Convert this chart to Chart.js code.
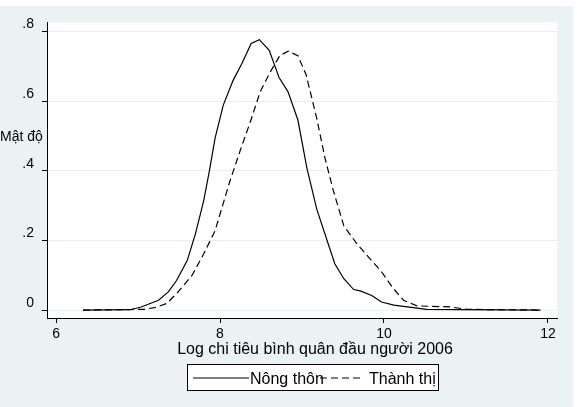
<!DOCTYPE html>
<html>
<head>
<meta charset="utf-8">
<script src="https://cdn.jsdelivr.net/npm/chart.js@4.4.1/dist/chart.umd.min.js"></script>
<style>
  html, body { margin: 0; padding: 0; background: #fff; }
  #wrap { position: absolute; left: 0; top: 6px; width: 573px; height: 401px; background: #eaf2f3; }
</style>
</head>
<body>
<div id="wrap"><canvas id="myChart" width="573" height="401"></canvas></div>
<script>
// Nông thôn (solid line)
const ruralX = [6.33, 6.90, 7.03, 7.25, 7.37, 7.47, 7.60, 7.70, 7.80, 7.87, 7.94, 8.04, 8.16, 8.27, 8.38, 8.48,
                8.60, 8.72, 8.83, 8.95, 9.06, 9.18, 9.30, 9.40, 9.51, 9.63, 9.71, 9.85, 9.97, 10.12, 10.52, 11.91];
const ruralY = [0, 0.001, 0.008, 0.028, 0.052, 0.085, 0.142, 0.219, 0.313, 0.399, 0.494, 0.589, 0.660, 0.710, 0.766, 0.777,
                0.746, 0.668, 0.627, 0.546, 0.408, 0.290, 0.204, 0.133, 0.090, 0.059, 0.055, 0.042, 0.023, 0.014, 0.002, 0];

// Thành thị (dashed line)
const urbanX = [6.33, 7.07, 7.22, 7.35, 7.47, 7.66, 7.80, 7.94, 8.12, 8.25, 8.37, 8.49, 8.61, 8.73, 8.83, 8.95,
                9.05, 9.18, 9.28, 9.38, 9.51, 9.67, 9.83, 9.97, 10.10, 10.24, 10.40, 10.81, 11.01, 11.91];
const urbanY = [0, 0.002, 0.008, 0.019, 0.047, 0.100, 0.161, 0.228, 0.370, 0.461, 0.541, 0.627, 0.683, 0.731, 0.744, 0.731,
                0.676, 0.551, 0.437, 0.345, 0.242, 0.190, 0.147, 0.110, 0.066, 0.028, 0.012, 0.009, 0.002, 0];

const xTicks = [6, 8, 10, 12];
const yTicks = [0, 0.2, 0.4, 0.6, 0.8];
const yTickLabels = ['0', '.2', '.4', '.6', '.8'];

const seriesNames = ['Nông thôn', 'Thành thị'];
const xTitle = 'Log chi tiêu bình quân đầu người 2006';
const yTitle = 'Mật độ';

const FAMILY = '"Liberation Sans", Arial, sans-serif';

function toPoints(xs, ys) {
    return xs.map(function (x, i) { return { x: x, y: ys[i] }; });
}

// white plot region, axis titles and the boxed legend drawn like Stata does
const stataLook = {
    id: 'stataLook',
    beforeDraw: function (chart) {
        const ctx = chart.ctx, a = chart.chartArea;
        ctx.save();
        ctx.fillStyle = '#ffffff';
        ctx.fillRect(a.left, a.top, a.right - a.left, a.bottom - a.top);
        ctx.restore();
    },
    afterDraw: function (chart) {
        const ctx = chart.ctx;
        ctx.save();
        ctx.fillStyle = '#000';

        ctx.font = '14px ' + FAMILY;
        ctx.textBaseline = 'middle';
        ctx.textAlign = 'left';
        ctx.fillText(yTitle, 0, 131);

        ctx.font = '16px ' + FAMILY;
        ctx.textBaseline = 'alphabetic';
        ctx.textAlign = 'center';
        ctx.fillText(xTitle, (chart.chartArea.left + chart.chartArea.right) / 2 + 13, 348);

        // legend
        ctx.fillStyle = '#fff';
        ctx.fillRect(187.5, 358.5, 251, 26);
        ctx.strokeStyle = '#000';
        ctx.lineWidth = 1;
        ctx.strokeRect(187.5, 358.5, 251, 26);

        ctx.lineWidth = 1.2;
        ctx.beginPath();
        ctx.moveTo(193, 372); ctx.lineTo(249, 372);
        ctx.stroke();
        ctx.setLineDash([7, 4]);
        ctx.beginPath();
        ctx.moveTo(320, 372); ctx.lineTo(362, 372);
        ctx.stroke();
        ctx.setLineDash([]);

        ctx.fillStyle = '#000';
        ctx.textAlign = 'left';
        ctx.fillText(seriesNames[0], 250, 378);
        ctx.fillText(seriesNames[1], 369, 378);
        ctx.restore();
    }
};

const config = {
    type: 'line',
    data: {
        datasets: [{
            label: seriesNames[0],
            data: toPoints(ruralX, ruralY),
            borderColor: '#000',
            borderWidth: 1.2,
            pointRadius: 0,
            tension: 0,
            fill: false
        }, {
            label: seriesNames[1],
            data: toPoints(urbanX, urbanY),
            borderColor: '#000',
            borderWidth: 1.2,
            borderDash: [7, 4],
            pointRadius: 0,
            tension: 0,
            fill: false
        }]
    },
    options: {
        responsive: false,
        animation: false,
        layout: { padding: { top: 14, right: 16, left: 0, bottom: 0 } },
        plugins: {
            legend: { display: false },
            tooltip: { enabled: false }
        },
        scales: {
            x: {
                type: 'linear',
                min: 5.89,
                max: 12.11,
                afterBuildTicks: function (scale) {
                    scale.ticks = xTicks.map(function (v) { return { value: v }; });
                },
                afterFit: function (scale) { scale.height = 89; },
                ticks: {
                    color: '#000',
                    font: { family: FAMILY, size: 14 },
                    padding: 3,
                    maxRotation: 0,
                    autoSkip: false
                },
                grid: { drawOnChartArea: false, tickLength: 5, tickColor: '#000' },
                border: { color: '#000', width: 1 }
            },
            y: {
                min: -0.0228,
                max: 0.8265,
                afterBuildTicks: function (scale) {
                    scale.ticks = yTicks.map(function (v) { return { value: v }; });
                },
                afterFit: function (scale) { scale.width = 47; },
                ticks: {
                    color: '#000',
                    font: { family: FAMILY, size: 14 },
                    padding: 8,
                    labelOffset: -7,
                    callback: function (value) {
                        const i = yTicks.indexOf(value);
                        return i >= 0 ? yTickLabels[i] : '';
                    }
                },
                grid: { color: '#e8f0f1', tickLength: 5, tickColor: '#000' },
                border: { color: '#000', width: 1 }
            }
        }
    },
    plugins: [stataLook]
};

new Chart(document.getElementById('myChart'), config);
</script>
</body>
</html>
